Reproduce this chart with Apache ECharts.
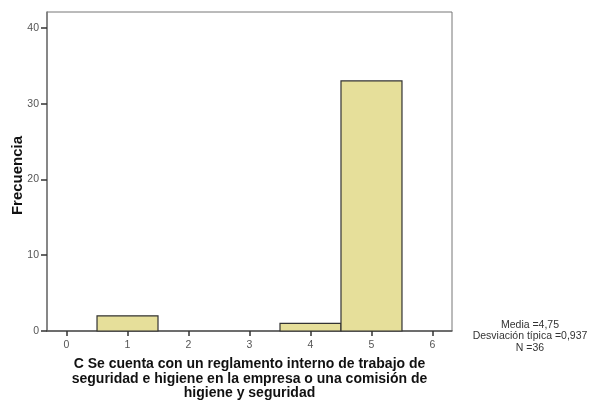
<!DOCTYPE html>
<html><head><meta charset="utf-8">
<script src="https://cdn.jsdelivr.net/npm/echarts@6/dist/echarts.min.js"></script>
<style>html,body{margin:0;padding:0;background:#fff}#c{width:595px;height:401px}</style>
</head><body><div id="c"></div>
<script>
const binCenters = [1, 4, 5];
const counts = [2, 1, 33];
const xTicks = [0, 1, 2, 3, 4, 5, 6];
const yTicks = [0, 10, 20, 30, 40];
const statLines = ['Media =4,75', 'Desviación típica =0,937', 'N =36'];
const xTitle = 'C Se cuenta con un reglamento interno de trabajo de\nseguridad e higiene en la empresa o una comisión de\nhigiene y seguridad';
const yTitle = 'Frecuencia';

const chart = echarts.init(document.getElementById('c'), null, {renderer: 'canvas'});
const font = 'Liberation Sans, Arial, sans-serif';
chart.setOption({
  animation: false,
  grid: {left: 47, top: 12, width: 405, height: 319, show: true, borderColor: '#777', borderWidth: 1, backgroundColor: 'transparent', containLabel: false, outerBoundsMode: 'none'},
  xAxis: {
    type: 'value', min: -0.32, max: 6.32,
    splitLine: {show: false},
    axisLine: {show: true, onZero: false, lineStyle: {color: '#555', width: 1.5}},
    axisTick: {show: true, customValues: xTicks, length: 5, lineStyle: {color: '#333', width: 1.5}},
    axisLabel: {customValues: xTicks, color: '#555', fontSize: 10.5, fontFamily: font, margin: 9},
    name: xTitle, nameLocation: 'middle', nameGap: 26, nameMoveOverlap: false,
    nameTextStyle: {fontSize: 14, fontWeight: 'bold', color: '#111', fontFamily: font, lineHeight: 14.5, verticalAlign: 'top'}
  },
  yAxis: {
    type: 'value', min: 0, max: 42.1,
    splitLine: {show: false},
    axisLine: {show: true, onZero: false, lineStyle: {color: '#777', width: 1.5}},
    axisTick: {show: true, customValues: yTicks, length: 6, lineStyle: {color: '#333', width: 1.5}},
    axisLabel: {customValues: yTicks, color: '#555', fontSize: 10.5, fontFamily: font, margin: 8},
    name: yTitle, nameLocation: 'middle', nameGap: 22, nameRotate: 90, nameMoveOverlap: false,
    nameTextStyle: {fontSize: 15, fontWeight: 'bold', color: '#111', fontFamily: font, padding: [0, 8, 0, 0]}
  },
  series: [{
    type: 'custom',
    data: binCenters.map((c, i) => [c, counts[i]]),
    renderItem: function (params, api) {
      const c = api.value(0), v = api.value(1);
      const p0 = api.coord([c - 0.5, v]);
      const p1 = api.coord([c + 0.5, 0]);
      return {
        type: 'rect',
        shape: {x: p0[0], y: p0[1], width: p1[0] - p0[0], height: p1[1] - p0[1]},
        style: {fill: '#E6DF9A', stroke: '#333', lineWidth: 1.2}
      };
    }
  }],
  graphic: [{
    type: 'text', x: 530, y: 319,
    style: {text: statLines.join('\n'), fill: '#333', fontSize: 10.5, fontFamily: font, align: 'center', verticalAlign: 'top', lineHeight: 11.5}
  }]
});
</script></body></html>
